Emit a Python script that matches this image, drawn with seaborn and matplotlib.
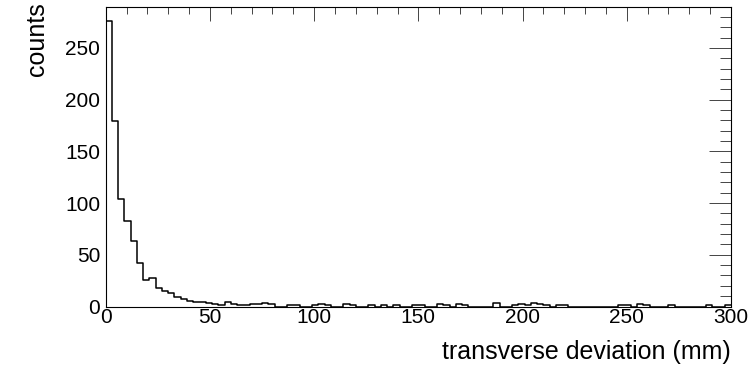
import numpy as np
import pandas as pd
import matplotlib
matplotlib.use("Agg")
import matplotlib.pyplot as plt
from matplotlib.ticker import MultipleLocator
import seaborn as sns

# Histogram: transverse deviation, 100 bins of 3 mm from 0 to 300 mm
bin_width = 3
x_range = (0, 300)
counts = [276, 179, 104, 83, 63, 42, 26, 28, 18, 15,
          13, 9, 7, 5, 4, 4, 3, 2, 1, 4,
          2, 1, 1, 2, 2, 3, 2, 0, 0, 1,
          1, 0, 0, 1, 2, 1, 0, 0, 2, 1,
          0, 0, 1, 0, 1, 0, 1, 0, 0, 1,
          1, 0, 0, 2, 1, 0, 2, 1, 0, 0,
          0, 0, 3, 0, 0, 1, 2, 1, 3, 2,
          1, 0, 1, 1, 0, 0, 0, 0, 0, 0,
          0, 0, 1, 1, 0, 2, 1, 0, 0, 0,
          1, 0, 0, 0, 0, 0, 1, 0, 0, 1]
x_ticks = [0, 50, 100, 150, 200, 250, 300]
y_ticks = [0, 50, 100, 150, 200, 250]
x_label = "transverse deviation (mm)"
y_label = "counts"

bin_centers = np.arange(len(counts)) * bin_width + bin_width / 2
df = pd.DataFrame({"deviation": bin_centers, "counts": counts})

sns.set_theme(style="white")
plt.rcParams["font.family"] = ["Liberation Sans", "DejaVu Sans"]
plt.rcParams["text.color"] = "black"

fig = plt.figure(figsize=(7.53, 3.65), dpi=100)
ax = fig.add_axes([105.7 / 753, 1 - 306.5 / 365, (731 - 105.7) / 753, (306.5 - 6.7) / 365])

sns.histplot(data=df, x="deviation", weights="counts", binwidth=bin_width,
             binrange=x_range, element="step", fill=False, color="black",
             linewidth=1.1, ax=ax)

ax.set_xlim(*x_range)
ax.set_ylim(0, 1.05 * max(counts))
ax.set_xticks(x_ticks)
ax.set_yticks(y_ticks)
ax.xaxis.set_minor_locator(MultipleLocator(10))
ax.yaxis.set_minor_locator(MultipleLocator(10))
ax.set_xlabel("")
ax.set_ylabel("")

ax.tick_params(axis="both", which="both", direction="in", top=True, right=True,
               color="#444444", width=0.7, labelsize=15, labelcolor="black")
ax.tick_params(axis="x", which="major", length=10, pad=1)
ax.tick_params(axis="x", which="minor", length=5)
ax.tick_params(axis="y", which="major", length=16, pad=4)
ax.tick_params(axis="y", which="minor", length=8)

for sp in ax.spines.values():
    sp.set_color("black")
    sp.set_linewidth(0.8)

fig.text(731 / 753, 1 - 359 / 365, x_label, ha="right", va="baseline",
         fontsize=18, color="black")
fig.text(37 / 753, 1 - 2 / 365, y_label, ha="center", va="top", rotation=90,
         fontsize=18, color="black")

fig.savefig("out.png", dpi=100, facecolor="white")
